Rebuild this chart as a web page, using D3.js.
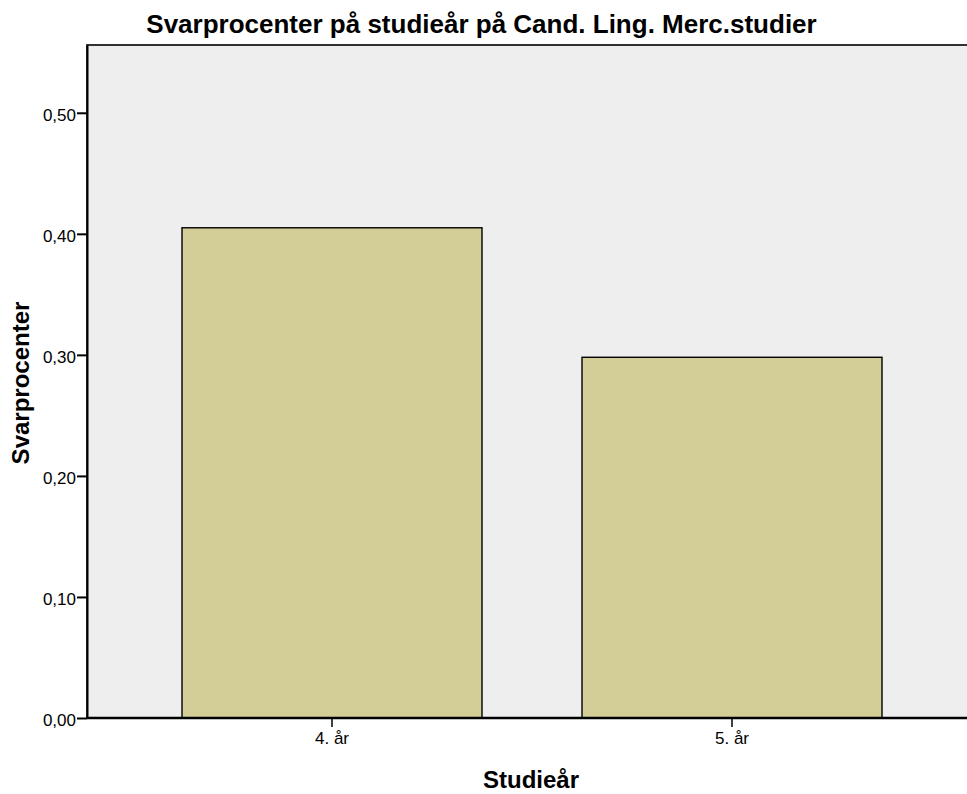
<!DOCTYPE html>
<html>
<head>
<meta charset="utf-8">
<script src="https://cdn.jsdelivr.net/npm/d3@7"></script>
<style>
  html, body { margin: 0; padding: 0; background: #fff; }
  svg { display: block; }
  text { font-family: "Liberation Sans", Arial, sans-serif; fill: #000; }
</style>
</head>
<body>
<svg id="chart" width="967" height="794"></svg>
<script>
// Response rate per study year
const categories = ["4. år", "5. år"];
const values = [0.405, 0.298];
const yTicks = [0, 0.1, 0.2, 0.3, 0.4, 0.5];

const title = "Svarprocenter på studieår på Cand. Ling. Merc.studier";
const xTitle = "Studieår";
const yTitle = "Svarprocenter";

const svg = d3.select("#chart");
const plot = { left: 87, top: 45, right: 980, bottom: 718 };

const x = d3.scaleBand()
  .domain(categories)
  .range([132, 932])
  .paddingInner(0.25)
  .paddingOuter(0.125);

const y = d3.scaleLinear()
  .domain([0, 0.556])
  .range([plot.bottom, plot.top]);

// plot background
svg.append("rect")
  .attr("x", plot.left).attr("y", plot.top)
  .attr("width", plot.right - plot.left).attr("height", plot.bottom - plot.top)
  .attr("fill", "#eeeeee")
  .attr("stroke", "#000").attr("stroke-width", 1.6);

// bars
svg.append("g").selectAll("rect")
  .data(categories.map((c, i) => ({ c, v: values[i] })))
  .join("rect")
  .attr("x", d => x(d.c))
  .attr("y", d => y(d.v))
  .attr("width", x.bandwidth())
  .attr("height", d => y(0) - y(d.v))
  .attr("fill", "#d3ce98")
  .attr("stroke", "#000")
  .attr("stroke-width", 1.4);

const fmt = d => d3.format(".2f")(d).replace(".", ",");

// y axis
const yAxis = svg.append("g")
  .attr("transform", `translate(${plot.left},0)`)
  .call(d3.axisLeft(y).tickValues(yTicks).tickFormat(fmt).tickSize(10).tickPadding(1).tickSizeOuter(0));
yAxis.select(".domain").attr("stroke-width", 2);
yAxis.selectAll(".tick line").attr("stroke-width", 2);
yAxis.selectAll(".tick text")
  .attr("font-size", 17)
  .attr("dy", "0.45em")
  .attr("font-family", "Liberation Sans, Arial, sans-serif");

// x axis
const xAxis = svg.append("g")
  .attr("transform", `translate(0,${plot.bottom})`)
  .call(d3.axisBottom(x).tickSize(9).tickPadding(5).tickSizeOuter(0));
xAxis.select(".domain").attr("d", `M${plot.left},0H${plot.right}`).attr("stroke-width", 2.4);
xAxis.selectAll(".tick line").attr("stroke-width", 1.5);
xAxis.selectAll(".tick text")
  .attr("font-size", 17)
  .attr("font-family", "Liberation Sans, Arial, sans-serif");

// titles
svg.append("text")
  .attr("x", 481.5).attr("y", 33)
  .attr("text-anchor", "middle")
  .attr("font-size", 26).attr("font-weight", "bold")
  .text(title);

svg.append("text")
  .attr("x", 531).attr("y", 788)
  .attr("text-anchor", "middle")
  .attr("font-size", 24).attr("font-weight", "bold")
  .text(xTitle);

svg.append("text")
  .attr("transform", "translate(29,383) rotate(-90)")
  .attr("text-anchor", "middle")
  .attr("font-size", 24).attr("font-weight", "bold")
  .text(yTitle);
</script>
</body>
</html>
